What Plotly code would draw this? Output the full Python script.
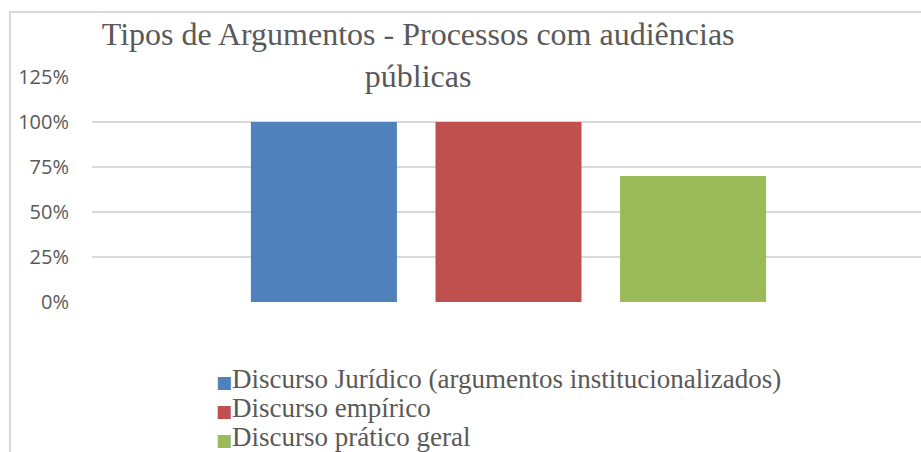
import plotly.graph_objects as go

# data
categoria = ["Processos com audiências públicas"]
series = ["Discurso Jurídico (argumentos institucionalizados)", "Discurso empírico", "Discurso prático geral"]
valores = [1.00, 1.00, 0.70]
cores = ["#4f81bd", "#c0504d", "#9bbb59"]
ticks_y = [0, 0.25, 0.5, 0.75, 1.0, 1.25]

W, H = 921, 452
cinza = "#595959"

fig = go.Figure()
for nome, v, c in zip(series, valores, cores):
    fig.add_trace(go.Bar(x=categoria, y=[v], name=nome, marker=dict(color=c, line=dict(width=0))))

fig.update_layout(
    width=W, height=H,
    margin=dict(l=92, r=0, t=77, b=150),
    paper_bgcolor="white",
    plot_bgcolor="white",
    barmode="group",
    bargap=0.332,
    bargroupgap=0.209,
    showlegend=False,
    title=dict(
        text="Tipos de Argumentos - Processos com audiências<br>públicas",
        font=dict(family="Liberation Serif", size=32, color=cinza),
        x=0.454, xanchor="center",
        y=0.90, yanchor="top",
    ),
    xaxis=dict(range=[-0.5024, 0.4976], showticklabels=False, showgrid=False,
               zeroline=False, showline=False),
    yaxis=dict(
        range=[0, 1.25], tickvals=ticks_y, tickformat=".0%",
        showgrid=True, gridcolor="#d9d9d9", gridwidth=1.5,
        zeroline=False, showline=False, ticks="",
        ticklabelstandoff=22,
        tickfont=dict(family="Open Sans", size=20, color=cinza),
    ),
)

# moldura do gráfico (apenas bordas esquerda e superior visíveis)
fig.add_shape(type="rect", xref="paper", yref="paper",
              x0=-82 / (W - 92), x1=1.05, y0=-1.0, y1=1 + 65 / 225,
              line=dict(color="#d9d9d9", width=2), layer="below")

# legenda desenhada como texto, uma linha por série
for i, (nome, c) in enumerate(zip(series, cores)):
    fig.add_annotation(
        xref="paper", yref="paper",
        x=(214 - 92) / (W - 92), xanchor="left",
        y=-(379 + 29 * i - 302) / 225, yanchor="middle",
        showarrow=False, align="left",
        text=f'<span style="font-family:DejaVu Sans;font-size:17px;color:{c}">■</span>{nome}',
        font=dict(family="Liberation Serif", size=27, color=cinza),
    )

fig.write_html("out.html", config={"displayModeBar": False},
               post_script="document.body.style.margin='0';")
